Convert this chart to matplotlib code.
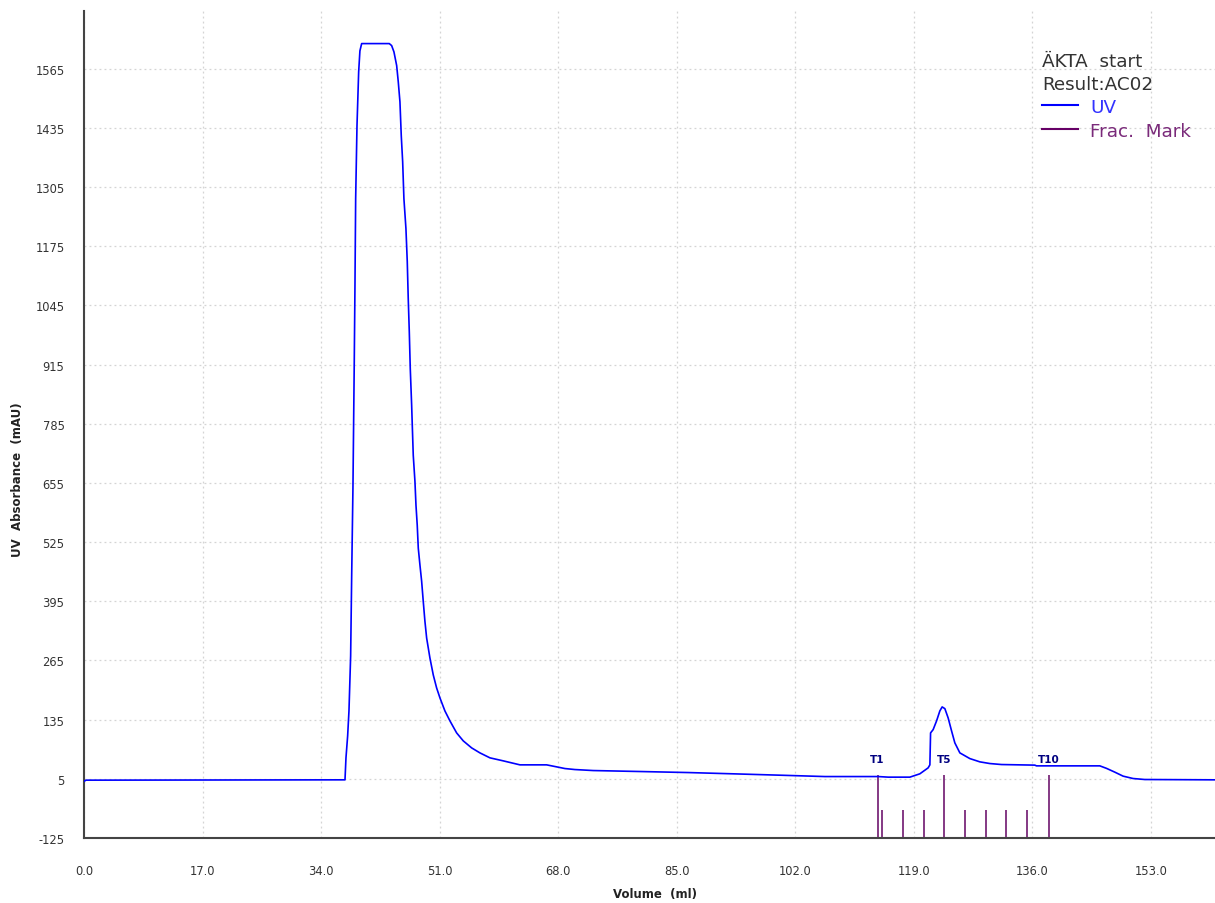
import numpy as np
import matplotlib
matplotlib.use("Agg")
import matplotlib.pyplot as plt
from matplotlib.lines import Line2D

# UV trace (volume in ml, absorbance in mAU)
uv_volume = [0.0, 0.29, 37.43, 37.57, 37.81, 38.0, 38.24, 38.39, 38.57, 38.76, 38.86, 38.96,
             39.15, 39.39, 39.57, 39.82, 43.78, 44.12, 44.45, 44.84, 45.07, 45.31, 45.50,
             45.70, 45.88, 46.17, 46.36, 46.50, 46.65, 46.79, 46.99, 47.08, 47.22, 47.46,
             47.61, 47.79, 47.94, 48.18, 48.42, 48.65, 48.89, 49.14, 49.61, 50.09, 50.57,
             51.05, 51.76, 52.48, 53.44, 54.39, 55.59, 56.78, 58.22, 60.12, 62.52, 66.35,
             67.78, 68.97, 70.40, 73.03, 79.97, 86.65, 93.10, 99.56, 106.25, 113.89, 115.33,
             118.44, 119.87, 121.06, 121.31, 121.41, 121.78, 122.27, 122.74, 123.07, 123.46,
             123.93, 124.42, 124.89, 125.61, 127.04, 128.48, 129.91, 131.59, 136.36, 136.60,
             145.68, 146.64, 147.83, 149.02, 150.45, 152.13, 162.2]
uv_mau = [-0.5, 2.1, 2.8, 51.1, 99.3, 154.2, 274.9, 452.6, 643.4, 922.1, 1088.8, 1279.6,
          1439.8, 1558.3, 1604.4, 1620.4, 1620.4, 1616.0, 1602.2, 1572.1, 1536.4, 1492.5, 1417.9,
          1360.9, 1279.7, 1213.9, 1141.5, 1060.3, 987.9, 906.7, 825.5, 781.7, 715.8, 658.8,
          606.1, 562.3, 511.8, 474.5, 439.4, 395.5, 351.6, 314.3, 270.5, 233.2, 204.7,
          182.7, 154.2, 132.3, 105.9, 88.4, 73.0, 62.0, 51.1, 44.5, 35.7, 35.7,
          31.3, 27.6, 25.4, 23.2, 21.0, 18.8, 16.0, 13.1, 10.0, 10.0, 8.7,
          8.7, 16.0, 29.1, 35.7, 105.9, 113.2, 132.3, 154.2, 163.0, 159.2,
          138.8, 110.3, 84.0, 62.0, 49.5, 42.3, 38.6, 36.4, 35.1, 33.5,
          33.5, 28.0, 19.7, 10.9, 5.7, 3.5, 2.8]

# fraction marks
frac_volume = [113.81, 114.47, 117.39, 120.40, 123.31, 126.32, 129.37, 132.29, 135.30, 138.35]
frac_names = ["T1", "T2", "T3", "T4", "T5", "T6", "T7", "T8", "T9", "T10"]
frac_labelled = ["T1", "T5", "T10"]

x_ticks = [0.0, 17.0, 34.0, 51.0, 68.0, 85.0, 102.0, 119.0, 136.0, 153.0]
y_ticks = [-125, 5, 135, 265, 395, 525, 655, 785, 915, 1045, 1175, 1305, 1435, 1565]

W, H = 1215, 904
fig = plt.figure(figsize=(W / 100, H / 100), dpi=100)
ax = fig.add_axes([84 / W, (H - 839) / H, 1 - 84 / W, (839 - 12) / H])

ax.plot(uv_volume, uv_mau, color="#0000ff", lw=1.2, zorder=3)

for v, name in zip(frac_volume, frac_names):
    top = 14 if name in frac_labelled else -64
    ax.vlines(v, -125, top, color="#7b2a7b", lw=1.3, zorder=2)
    if name in frac_labelled:
        ax.text(v, 38, name, ha="center", va="bottom", fontsize=7.5,
                fontweight="bold", color="#000080")

ax.set_xlim(0, 162.2)
ax.set_ylim(-125, 1692)
ax.set_xticks(x_ticks)
ax.set_xticklabels([f"{t:.1f}" for t in x_ticks])
ax.set_yticks(y_ticks)
ax.set_yticklabels([str(t) for t in y_ticks])
ax.tick_params(length=0, labelsize=8.3, colors="#333333")
ax.tick_params(axis="x", pad=19)
ax.tick_params(axis="y", pad=14)
ax.grid(True, color="#d4d4d4", linestyle=(0, (1.5, 2.5)), lw=0.9)
ax.set_axisbelow(True)

for side in ["top", "right"]:
    ax.spines[side].set_visible(False)
for side in ["left", "bottom"]:
    ax.spines[side].set_color("#444444")
    ax.spines[side].set_linewidth(1.5)

fig.text(655 / W, 1 - 895 / H, "Volume  (ml)", ha="center", va="center",
         fontsize=8.5, fontweight="bold", color="#222222")
fig.text(18 / W, 1 - 480 / H, "UV  Absorbance  (mAU)", ha="center", va="center",
         rotation=90, fontsize=8.5, fontweight="bold", color="#222222")

# legend block (top right)
lx = 1042 / W
fig.text(lx, 1 - 67 / H, "ÄKTA  start", fontsize=13.2, color="#333333", va="baseline")
fig.text(lx, 1 - 90 / H, "Result:AC02", fontsize=13.2, color="#333333", va="baseline")
fig.add_artist(Line2D([1042 / W, 1078 / W], [1 - 106 / H, 1 - 106 / H], color="#0000ff", lw=1.5))
fig.text(1090 / W, 1 - 113 / H, "UV", fontsize=13.2, color="#3333ff", va="baseline")
fig.add_artist(Line2D([1042 / W, 1078 / W], [1 - 130 / H, 1 - 130 / H], color="#660066", lw=1.5))
fig.text(1090 / W, 1 - 137 / H, "Frac.  Mark", fontsize=13.2, color="#7a2a7a", va="baseline")

fig.savefig("out.png", dpi=100)
